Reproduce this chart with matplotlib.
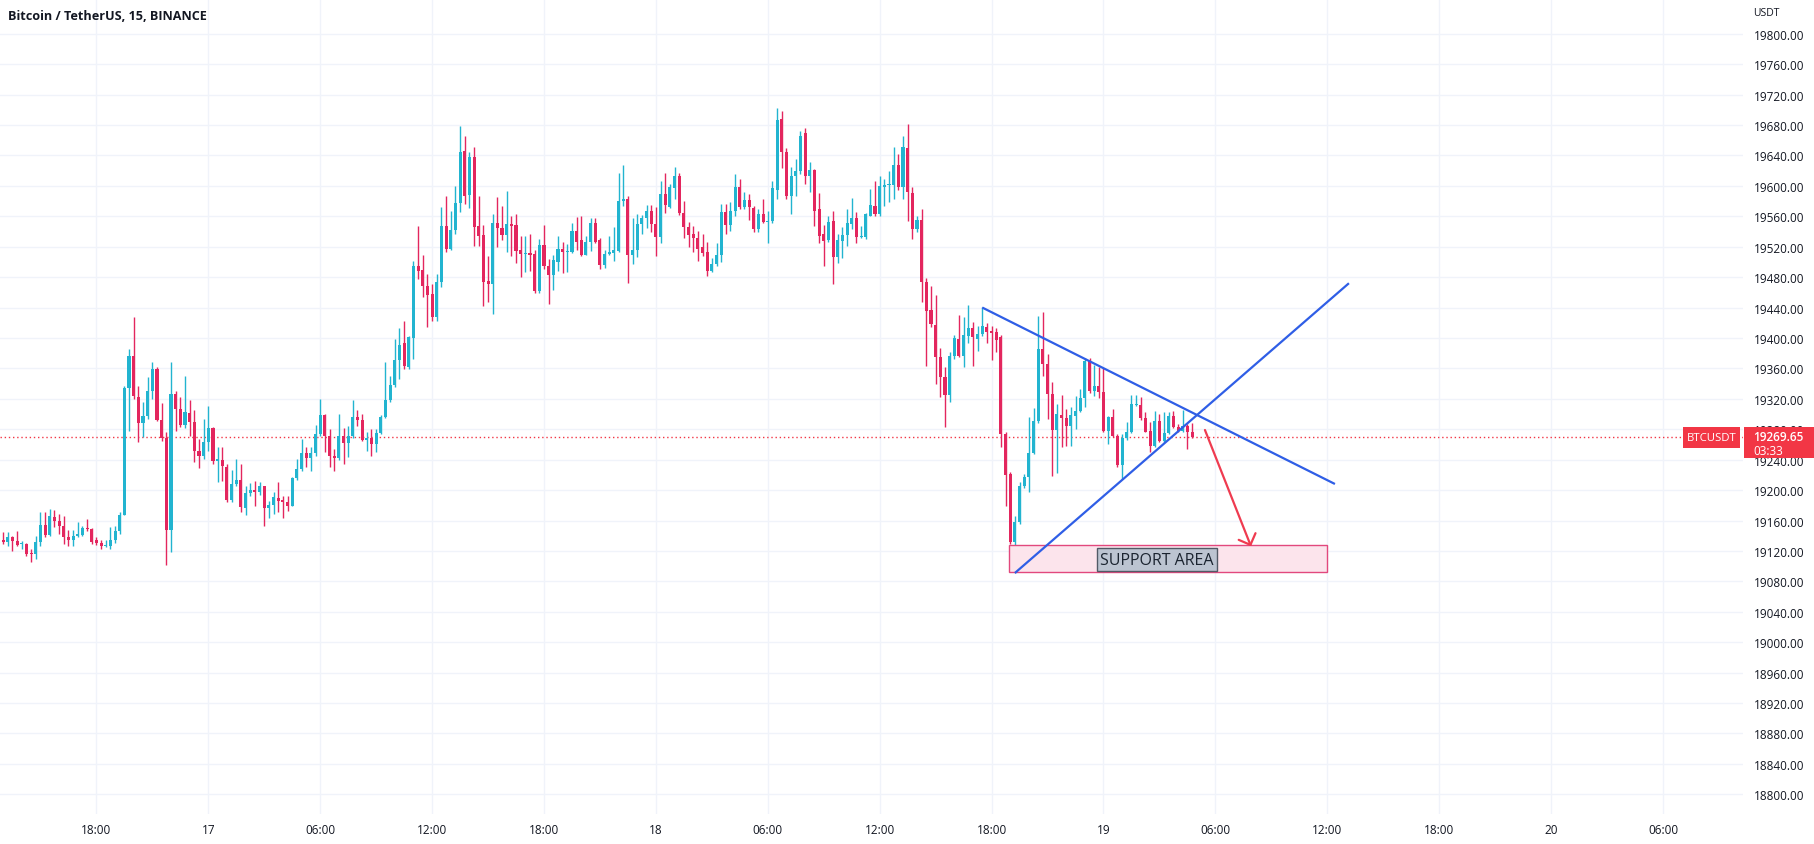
import numpy as np
import matplotlib
matplotlib.use("Agg")
import matplotlib.pyplot as plt
from matplotlib.patches import Rectangle

plt.rcParams['font.family'] = ['Open Sans', 'DejaVu Sans']

# ---------------- data ----------------
title = "Bitcoin / TetherUS, 15, BINANCE"
symbol = "BTCUSDT"
currency = "USDT"
countdown = "03:33"
first_time = 13.0          # hours since 16 Sep 00:00 (first visible 15m candle)
step = 0.25                # 15 minutes

opens = [19134.3,19131.3,19138.0,19133.6,19129.0,19129.0,19116.0,19115.7,19131.3,19154.0,
         19141.3,19165.0,19158.8,19153.0,19138.0,19134.0,19140.0,19141.0,19150.0,19149.0,
         19134.0,19131.0,19126.0,19126.0,19134.0,19146.0,19167.5,19334.0,19376.0,19323.0,
         19288.0,19297.0,19330.0,19359.0,19292.5,19268.0,19148.0,19326.0,19306.6,19285.5,
         19302.0,19289.0,19252.0,19245.0,19263.6,19281.0,19238.6,19240.0,19231.0,19187.4,
         19208.0,19213.0,19177.0,19196.0,19200.0,19197.0,19205.0,19177.0,19180.0,19190.0,
         19187.0,19184.0,19179.5,19216.0,19227.7,19248.7,19241.7,19248.7,19273.7,19298.7,
         19270.6,19245.0,19241.7,19270.6,19262.0,19270.6,19295.6,19292.5,19266.3,19268.0,
         19260.6,19275.0,19296.5,19318.4,19338.0,19371.4,19393.4,19361.4,19399.5,19495.0,
         19489.8,19468.0,19457.8,19427.0,19473.0,19547.6,19516.9,19542.0,19577.5,19646.3,
         19588.0,19637.5,19546.8,19535.4,19474.9,19471.0,19551.0,19544.5,19535.4,19549.8,
         19548.5,19515.6,19510.4,19511.7,19510.4,19462.2,19522.2,19494.2,19482.8,19500.3,
         19517.0,19513.5,19513.5,19540.2,19528.8,19509.0,19526.6,19551.1,19528.8,19496.0,
         19510.4,19511.7,19514.8,19580.5,19582.7,19509.0,19515.6,19549.4,19557.7,19566.9,
         19549.8,19532.3,19589.3,19572.6,19596.7,19613.4,19563.9,19545.5,19536.7,19531.4,
         19519.2,19512.6,19488.5,19497.2,19509.0,19566.0,19548.5,19566.9,19598.0,19571.8,
         19581.4,19570.4,19543.3,19563.0,19553.0,19554.2,19595.0,19688.0,19644.1,19587.1,
         19612.5,19619.1,19670.0,19612.5,19620.8,19569.6,19536.7,19529.2,19553.8,19506.0,
         19527.9,19535.4,19549.4,19557.3,19532.3,19532.3,19560.8,19573.9,19563.0,19598.0,
         19601.1,19601.1,19627.4,19598.0,19649.8,19590.6,19543.3,19555.1,19473.1,19436.8,
         19417.0,19374.5,19348.2,19325.0,19376.3,19398.6,19375.8,19403.0,19412.6,19398.6,
         19405.2,19413.9,19409.6,19407.4,19400.8,19273.7,19221.1,19132.1,19158.4,19205.8,
         19216.7,19248.7,19291.2,19385.5,19365.8,19326.3,19279.4,19298.7,19294.3,19284.6,
         19297.8,19303.5,19320.6,19370.1,19330.7,19336.4,19328.5,19278.1,19295.6,19271.5,
         19232.9,19268.0,19275.9,19311.8,19311.8,19294.3,19278.1,19258.3,19291.2,19264.9,
         19275.0,19296.9,19282.5,19278.1,19283.8,19275.9]
highs = [19144.4,19144.4,19139.0,19146.6,19133.6,19130.0,19122.5,19140.0,19171.6,19170.7,
         19175.0,19174.0,19168.5,19166.0,19148.0,19147.0,19157.6,19153.0,19162.0,19150.0,
         19138.0,19134.0,19134.0,19151.0,19153.0,19170.7,19337.3,19385.5,19427.1,19337.0,
         19315.3,19348.2,19367.9,19361.4,19315.0,19275.9,19368.8,19330.7,19321.9,19350.4,
         19318.8,19305.3,19267.1,19293.4,19311.0,19282.5,19256.2,19256.0,19234.0,19226.8,
         19240.8,19234.0,19205.8,19209.3,19212.0,19210.0,19206.0,19186.0,19197.0,19210.0,
         19192.6,19192.6,19216.7,19240.8,19267.0,19256.0,19256.0,19285.5,19319.7,19300.0,
         19280.3,19254.0,19300.0,19281.0,19284.7,19318.8,19305.7,19300.0,19276.0,19280.0,
         19280.0,19298.7,19368.0,19350.4,19398.6,19412.6,19422.7,19403.0,19501.6,19546.8,
         19509.0,19484.0,19470.9,19484.0,19571.8,19586.2,19567.4,19600.2,19678.3,19665.1,
         19644.9,19651.5,19586.2,19548.5,19508.2,19563.0,19584.9,19573.0,19593.7,19559.9,
         19563.0,19534.5,19533.6,19536.7,19516.0,19530.0,19548.5,19503.8,19509.0,19533.6,
         19526.6,19523.5,19551.1,19558.6,19559.9,19534.5,19557.3,19557.7,19531.0,19516.0,
         19534.5,19545.5,19616.9,19627.4,19586.2,19557.3,19563.0,19561.7,19574.8,19574.8,
         19571.8,19606.8,19616.9,19602.4,19624.3,19616.9,19580.5,19552.0,19547.6,19541.0,
         19536.7,19526.6,19504.7,19524.9,19576.1,19576.1,19579.2,19615.6,19609.0,19591.5,
         19589.3,19573.9,19569.6,19582.7,19567.4,19606.8,19702.0,19698.0,19649.3,19624.3,
         19635.3,19672.6,19675.6,19631.8,19622.2,19590.6,19548.5,19560.8,19567.4,19536.6,
         19545.5,19569.6,19583.6,19565.2,19547.6,19564.3,19595.9,19606.8,19613.4,19609.0,
         19620.0,19650.6,19641.9,19666.0,19681.3,19598.0,19560.8,19569.6,19478.4,19468.8,
         19456.5,19386.4,19361.4,19381.1,19403.9,19430.2,19427.1,19443.3,19421.4,19416.1,
         19440.3,19419.7,19415.3,19412.6,19403.9,19275.9,19223.3,19166.3,19210.2,19221.0,
         19295.6,19307.5,19429.3,19434.6,19378.9,19342.5,19313.1,19325.0,19306.6,19308.8,
         19323.3,19332.9,19373.2,19373.2,19364.4,19361.4,19360.0,19297.8,19306.6,19273.7,
         19273.7,19289.0,19325.0,19325.0,19321.9,19302.2,19289.0,19304.4,19300.0,19302.2,
         19303.1,19304.4,19286.8,19305.7,19286.8,19288.2]
lows = [19129.1,19126.8,19120.3,19127.0,19122.5,19113.5,19105.8,19110.0,19127.0,19138.0,
        19140.0,19151.0,19142.0,19129.0,19127.0,19127.0,19138.0,19140.0,19146.6,19129.0,
        19128.0,19122.5,19125.0,19123.0,19131.0,19142.0,19166.6,19278.1,19319.8,19263.6,
        19269.3,19293.4,19320.0,19291.2,19265.0,19101.5,19118.0,19278.0,19282.5,19281.0,
        19271.5,19237.3,19228.6,19240.8,19251.8,19234.3,19210.0,19212.3,19184.8,19184.0,
        19205.8,19170.7,19167.0,19192.6,19179.5,19193.5,19153.0,19162.8,19168.5,19171.6,
        19162.8,19172.9,19178.6,19213.6,19225.5,19229.9,19225.5,19245.2,19271.5,19249.6,
        19230.0,19225.5,19240.0,19234.0,19243.0,19268.0,19284.6,19265.0,19251.8,19245.0,
        19249.6,19273.7,19294.3,19315.3,19335.0,19346.0,19359.0,19359.0,19372.3,19477.5,
        19453.4,19414.0,19422.7,19422.7,19466.6,19512.6,19516.0,19536.6,19565.2,19576.1,
        19570.4,19521.3,19521.3,19442.5,19447.7,19431.5,19519.2,19529.0,19513.5,19507.3,
        19498.6,19479.7,19486.3,19488.5,19459.1,19459.1,19490.7,19444.6,19463.5,19488.5,
        19485.4,19486.3,19511.7,19516.0,19507.3,19509.0,19514.8,19524.9,19490.7,19491.5,
        19509.0,19501.6,19512.6,19573.0,19472.2,19497.2,19506.0,19536.6,19544.1,19539.7,
        19508.2,19524.9,19564.3,19570.4,19582.7,19561.7,19531.0,19519.2,19512.6,19501.6,
        19507.3,19481.0,19486.3,19494.2,19500.3,19536.6,19541.0,19560.8,19569.6,19569.6,
        19555.5,19539.7,19538.9,19551.1,19524.9,19551.1,19582.7,19623.0,19582.7,19563.0,
        19587.1,19615.6,19602.4,19591.5,19547.6,19524.9,19495.0,19526.6,19470.9,19498.6,
        19504.7,19520.5,19543.3,19524.9,19531.0,19530.0,19559.9,19560.8,19560.8,19573.0,
        19578.3,19582.7,19595.0,19582.7,19554.2,19530.0,19538.9,19447.7,19363.6,19414.0,
        19339.5,19321.9,19282.5,19316.2,19372.3,19374.5,19361.4,19393.4,19363.6,19383.3,
        19403.0,19393.4,19371.4,19381.1,19256.2,19179.5,19129.0,19091.0,19155.4,19202.2,
        19197.0,19247.4,19288.2,19350.0,19293.4,19218.9,19222.4,19256.2,19257.5,19258.4,
        19280.3,19302.2,19308.8,19327.6,19324.1,19320.6,19276.8,19260.6,19269.3,19229.9,
        19214.5,19266.3,19275.0,19310.0,19292.5,19275.9,19249.6,19256.2,19263.6,19262.6,
        19273.7,19281.2,19275.9,19275.9,19254.0,19269.0]
closes = [19131.3,19138.0,19133.6,19128.0,19130.0,19115.7,19115.5,19131.3,19154.0,19141.3,
          19165.5,19158.8,19153.0,19138.0,19134.0,19139.0,19142.0,19150.0,19149.0,19132.0,
          19130.5,19126.0,19127.0,19134.7,19146.0,19167.5,19333.8,19375.8,19323.3,19288.2,
          19297.0,19329.8,19359.2,19292.5,19268.0,19148.0,19326.3,19306.6,19285.5,19302.2,
          19289.0,19251.8,19245.2,19263.6,19281.2,19238.6,19240.8,19231.2,19187.4,19208.0,
          19213.2,19177.3,19196.1,19200.0,19197.0,19204.9,19177.0,19180.4,19190.4,19186.0,
          19183.9,19179.5,19215.8,19227.7,19248.7,19241.7,19248.7,19273.7,19298.7,19270.6,
          19245.2,19241.7,19270.6,19261.9,19270.6,19295.6,19292.5,19266.3,19268.0,19260.6,
          19275.0,19296.5,19318.4,19338.1,19371.4,19391.2,19362.7,19400.8,19495.0,19488.5,
          19467.9,19456.5,19427.1,19473.1,19547.6,19516.9,19541.9,19577.5,19644.9,19586.2,
          19638.4,19545.5,19534.5,19474.0,19471.0,19551.1,19544.1,19535.4,19549.8,19547.6,
          19514.8,19510.4,19511.7,19509.5,19462.2,19522.2,19494.2,19482.8,19503.0,19517.0,
          19513.5,19514.3,19540.2,19526.6,19509.0,19525.7,19551.1,19526.6,19496.0,19510.4,
          19513.5,19515.6,19580.5,19582.7,19509.0,19515.6,19549.4,19557.7,19566.9,19549.8,
          19532.3,19589.3,19574.8,19598.0,19613.4,19563.9,19545.5,19535.8,19531.0,19516.9,
          19511.7,19488.5,19497.2,19509.0,19566.0,19548.5,19566.9,19598.0,19571.8,19581.4,
          19571.8,19543.3,19563.0,19552.9,19554.2,19597.2,19686.0,19644.1,19587.1,19612.5,
          19619.1,19665.1,19612.5,19620.8,19567.4,19534.5,19527.9,19552.0,19506.0,19529.2,
          19535.4,19551.1,19557.3,19532.3,19534.5,19563.0,19574.8,19563.0,19600.2,19601.1,
          19602.4,19627.4,19598.0,19650.6,19591.5,19543.3,19555.1,19473.1,19435.9,19418.3,
          19374.5,19348.2,19325.0,19376.7,19399.9,19375.8,19403.9,19412.6,19400.8,19405.2,
          19416.1,19407.4,19406.5,19397.7,19273.7,19219.8,19132.1,19158.4,19205.8,19216.7,
          19248.7,19291.2,19385.5,19365.8,19326.3,19279.4,19300.0,19294.3,19284.6,19298.7,
          19303.5,19320.6,19370.1,19330.7,19336.4,19328.5,19278.1,19295.6,19271.5,19232.9,
          19268.0,19275.9,19313.1,19313.1,19294.3,19276.8,19258.3,19291.2,19264.9,19275.0,
          19296.9,19282.5,19278.1,19283.8,19275.9,19269.65]

# time axis ticks (hours since 16 Sep 00:00)
tick_times = [18, 24, 30, 36, 42, 48, 54, 60, 66, 72, 78, 84, 90, 96, 102]
tick_labels = ["18:00", "17", "06:00", "12:00", "18:00", "18", "06:00", "12:00",
               "18:00", "19", "06:00", "12:00", "18:00", "20", "06:00"]
price_ticks = list(range(18800, 19801, 40))

# drawings (time in hours, price)
falling_line = [(65.5, 19440.0), (84.41, 19208.0)]
rising_line = [(67.25, 19091.0), (85.16, 19472.0)]
arrow_pts = [(77.44, 19279.0), (79.91, 19126.0)]
support_zone = (66.95, 83.97, 19092.0, 19127.8)   # t0, t1, p_low, p_high
support_label = "SUPPORT AREA"
support_label_pos = (74.87, 19108.7)

# ---------------- figure ----------------
W, H = 1814, 845
PLOT_R, PLOT_B = 1743, 815
fig = plt.figure(figsize=(W / 100, H / 100), dpi=100)
ax = fig.add_axes([0, (H - PLOT_B) / H, PLOT_R / W, PLOT_B / H])
ax.set_xlim(12.831, 106.29)
ax.set_ylim(18774.1, 19845.7)

UP = "#22b4d0"
DOWN = "#e3265e"
TXT = "#131722"

o = np.array(opens); h = np.array(highs); l = np.array(lows); c = np.array(closes)
t = first_time + step * np.arange(len(o))
up = c >= o
cols = np.where(up, UP, DOWN)

ax.vlines(t, l, h, colors=cols, linewidth=1.0, zorder=3)
body_bot = np.minimum(o, c)
body_h = np.maximum(np.abs(c - o), 1.2)
ax.bar(t, body_h, bottom=body_bot, width=0.165, color=cols, linewidth=0, zorder=4)

# grid
ax.set_yticks(price_ticks)
ax.set_yticklabels([f"{p:.2f}" for p in price_ticks])
ax.set_xticks(tick_times)
ax.set_xticklabels(tick_labels)
ax.grid(True, color="#f0f3fa", linewidth=1.0, zorder=0)
ax.set_axisbelow(True)
for s in ax.spines.values():
    s.set_visible(False)
ax.yaxis.tick_right()
ax.tick_params(axis="y", length=0, pad=7.5, labelsize=8.5, labelcolor=TXT)
ax.tick_params(axis="x", length=0, pad=6.5, labelsize=8.5, labelcolor=TXT)

# last price dotted line
last = closes[-1]
ax.axhline(last, color="#f23645", linewidth=1.0, linestyle=(0, (1, 2)), zorder=2)

# drawings
BLUE = "#2f5ee6"
ax.plot(*zip(*falling_line), color=BLUE, linewidth=1.6, zorder=6, solid_capstyle="butt")
ax.plot(*zip(*rising_line), color=BLUE, linewidth=1.6, zorder=6, solid_capstyle="butt")
ax.annotate("", xy=arrow_pts[1], xytext=arrow_pts[0],
            arrowprops=dict(arrowstyle="->,head_length=0.65,head_width=0.65",
                            color="#ef3b50", lw=1.6, shrinkA=0, shrinkB=0,
                            mutation_scale=10), zorder=6)

t0, t1, p0, p1 = support_zone
ax.add_patch(Rectangle((t0, p0), t1 - t0, p1 - p0, facecolor="#fce4ec",
                       edgecolor="#e2487d", linewidth=1.0, zorder=5))
ax.text(*support_label_pos, support_label, ha="center", va="center",
        fontsize=11.5, color="#1b2430", zorder=7,
        bbox=dict(boxstyle="square,pad=0.2", facecolor="#bcc4d1",
                  edgecolor="#525a66", linewidth=1.0))

# title
fig.text(8 / W, 1 - 16 / H, title, ha="left", va="center", fontsize=9.1,
         weight="bold", color=TXT)
# currency label
fig.text(1753 / W, 1 - 13 / H, currency, ha="left", va="center", fontsize=7.5, color=TXT)

# symbol tag and price tag
RED = "#f23645"
fig.add_artist(Rectangle((1683 / W, 1 - 449 / H), 57 / W, 21 / H,
                         transform=fig.transFigure, facecolor=RED, edgecolor="none", zorder=10))
fig.text(1711.5 / W, 1 - 438.5 / H, symbol, ha="center", va="center", fontsize=8.2,
         color="white", zorder=11)
fig.add_artist(Rectangle((1744 / W, 1 - 459 / H), 70 / W, 31 / H,
                         transform=fig.transFigure, facecolor=RED, edgecolor="none", zorder=10))
fig.text(1753 / W, 1 - 437.5 / H, f"{last:.2f}", ha="left", va="center", fontsize=8.5,
         weight="semibold", color="white", zorder=11)
fig.text(1753 / W, 1 - 451.5 / H, countdown, ha="left", va="center", fontsize=8.5,
         color="white", zorder=11)

fig.savefig("out.png", dpi=100, facecolor="white")
